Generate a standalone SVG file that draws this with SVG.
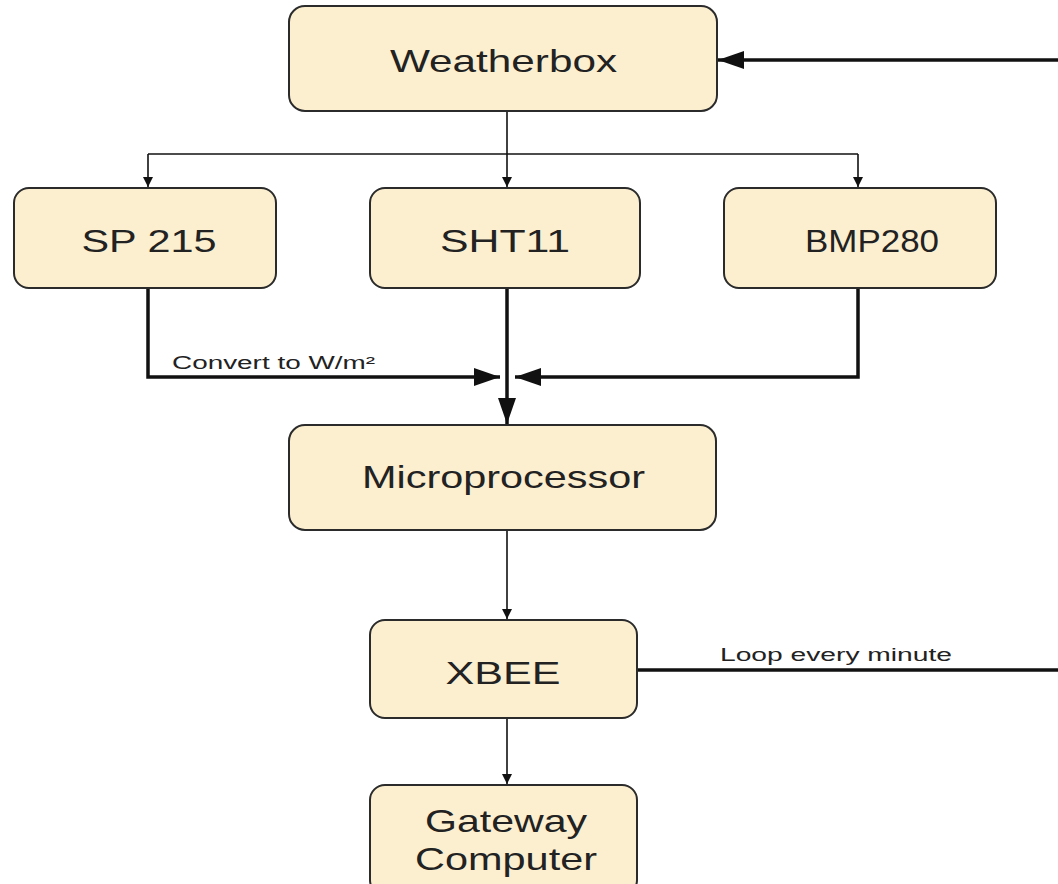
<svg xmlns="http://www.w3.org/2000/svg" width="1058" height="884" viewBox="0 0 1058 884">
<style>
.box{fill:#fcefd0;stroke:#2b2b2b;stroke-width:2}
.t{font-family:"Liberation Sans",Arial,sans-serif;font-size:32px;fill:#222;text-anchor:middle}
.lbl{font-family:"Liberation Sans",Arial,sans-serif;font-size:18px;fill:#222}
.thin{fill:none;stroke:#111;stroke-width:1.6}
.thick{fill:none;stroke:#111;stroke-width:3.5}
</style>
<defs>
<marker id="sm" markerWidth="10" markerHeight="10" refX="10" refY="5" orient="auto" markerUnits="userSpaceOnUse"><path d="M0,0 L10,5 L0,10 Z" fill="#111"/></marker>
<marker id="big" markerWidth="26" markerHeight="18" refX="26" refY="9" orient="auto" markerUnits="userSpaceOnUse"><path d="M0,0 L26,9 L0,18 Z" fill="#111"/></marker>
</defs>
<rect width="1058" height="884" fill="#fff"/>
<g id="connectors">
<path class="thin" d="M507,112 V154"/>
<path class="thin" d="M148,154 H858"/>
<path class="thin" d="M148,154 V187" marker-end="url(#sm)"/>
<path class="thin" d="M507,154 V187" marker-end="url(#sm)"/>
<path class="thin" d="M858,154 V187" marker-end="url(#sm)"/>
<path class="thick" d="M148,288 V377 H500" marker-end="url(#big)"/>
<path class="thick" d="M858,288 V377 H515" marker-end="url(#big)"/>
<path class="thick" d="M507,288 V424" marker-end="url(#big)"/>
<path class="thin" d="M507,530 V619" marker-end="url(#sm)"/>
<path class="thin" d="M507,718 V784" marker-end="url(#sm)"/>
<path class="thick" d="M637,670 H1058"/>
<path class="thick" d="M1058,60 H718" marker-end="url(#big)"/>
<text class="lbl" x="172" y="369" textLength="203" lengthAdjust="spacingAndGlyphs">Convert to W/m²</text>
<text class="lbl" x="720" y="661" textLength="232" lengthAdjust="spacingAndGlyphs">Loop every minute</text>
</g>
<g id="weatherbox"><rect class="box" x="289" y="6" width="428" height="105" rx="16"/><text class="t" x="503.5" y="72" textLength="227" lengthAdjust="spacingAndGlyphs">Weatherbox</text></g>
<g id="sp215"><rect class="box" x="14" y="188" width="262" height="100" rx="15"/><text class="t" x="149" y="252" textLength="135" lengthAdjust="spacingAndGlyphs">SP 215</text></g>
<g id="sht11"><rect class="box" x="370" y="188" width="270" height="100" rx="15"/><text class="t" x="505" y="252" textLength="130" lengthAdjust="spacingAndGlyphs">SHT11</text></g>
<g id="bmp280"><rect class="box" x="724" y="188" width="272" height="100" rx="15"/><text class="t" x="872" y="252" textLength="134" lengthAdjust="spacingAndGlyphs">BMP280</text></g>
<g id="microprocessor"><rect class="box" x="289" y="425" width="427" height="105" rx="16"/><text class="t" x="503.5" y="488" textLength="283" lengthAdjust="spacingAndGlyphs">Microprocessor</text></g>
<g id="xbee"><rect class="box" x="370" y="620" width="267" height="98" rx="15"/><text class="t" x="503" y="684" textLength="115" lengthAdjust="spacingAndGlyphs">XBEE</text></g>
<g id="gateway"><rect class="box" x="370" y="785" width="267" height="110" rx="15"/><text class="t" x="506" y="832" textLength="162" lengthAdjust="spacingAndGlyphs">Gateway</text><text class="t" x="506" y="870" textLength="182" lengthAdjust="spacingAndGlyphs">Computer</text></g>
</svg>
